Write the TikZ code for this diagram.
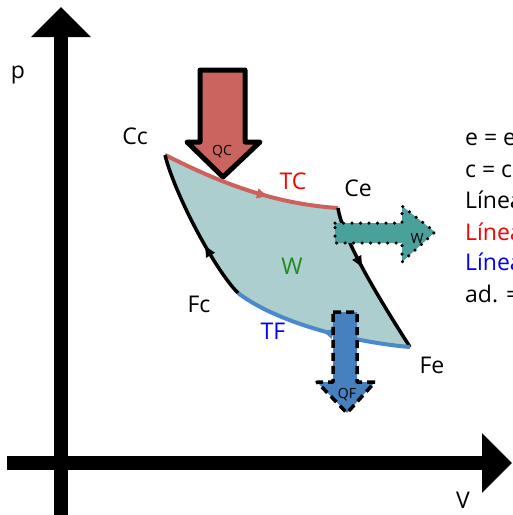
\documentclass[tikz,border=0pt]{standalone}
\usepackage{fontspec}
\setmainfont{Open Sans}
\usetikzlibrary{arrows.meta,decorations.markings}
\definecolor{relleno}{RGB}{172,206,206}
\definecolor{rojot}{RGB}{205,98,92}
\definecolor{azult}{RGB}{74,138,204}
\definecolor{rojoq}{RGB}{203,100,95}
\definecolor{verdew}{RGB}{74,160,155}
\definecolor{azulq}{RGB}{70,128,190}
\definecolor{verdet}{RGB}{30,140,30}
\begin{document}
\begin{tikzpicture}[x=1pt,y=-1pt,
    eje/.style={line width=14pt,-{Triangle[width=58pt,length=30pt]}},
    etiqueta/.style={font=\fontsize{23}{27}\selectfont,inner sep=0pt},
    chica/.style={font=\fontsize{14}{16}\selectfont,inner sep=0pt},
    sentido/.style={decoration={markings,
        mark=at position #1 with {\arrow{Latex[length=13pt,width=11pt]}}},
      postaction={decorate}},
    qcflecha/.style={draw=black,line width=5pt,line join=round,fill=rojoq},
    wflecha/.style={draw=black,line width=3.5pt,line cap=round,
      dash pattern=on 0pt off 8.5pt,fill=verdew},
    qfflecha/.style={draw=black,line width=3.5pt,dash pattern=on 8pt off 5pt,
      line join=round,fill=azulq}]
    \useasboundingbox (0,0) rectangle (513,515);
    % Ejes
    \draw[eje] (61,515) -- (61,7);
    \draw[eje] (7,463) -- (512,463);
    \node[etiqueta] (p) at (18,75) {p};
    \node[etiqueta] (V) at (463,500) {V};
    % Estados del ciclo
    \coordinate (Cc) at (165,155);
    \coordinate (Ce) at (338,208);
    \coordinate (Fe) at (410,347);
    \coordinate (Fc) at (238,293);
    \fill[relleno] (Cc) .. controls (200,172) and (260,203) .. (Ce)
      .. controls (343,240) and (380,300) .. (Fe)
      .. controls (360,343) and (280,325) .. (Fc)
      .. controls (215,270) and (175,195) .. (Cc) -- cycle;
    % Calor que entra
    \draw[qcflecha] (200,70) -- (245,70) -- (245,142) -- (260,142)
      -- (223,177) -- (187,142) -- (200,142) -- cycle;
    \node[chica] (QC) at (222,152) {QC};
    % Isotermas y adiabaticas
    \draw[rojot,line width=4pt,sentido=0.62]
      (Cc) .. controls (200,172) and (260,203) .. (Ce);
    \draw[line width=3.5pt,sentido=0.42]
      (Ce) .. controls (343,240) and (380,300) .. (Fe);
    \draw[azult,line width=4pt,sentido=0.5]
      (Fe) .. controls (360,343) and (280,325) .. (Fc);
    \draw[line width=3.5pt,sentido=0.38]
      (Fc) .. controls (215,270) and (175,195) .. (Cc);
    % Trabajo y calor que sale
    \draw[wflecha] (335,223) -- (402,223) -- (402,206) -- (435,232)
      -- (402,262) -- (402,243) -- (335,243) -- cycle;
    \node[chica] (Wf) at (417,238) {W};
    \draw[qfflecha] (333,312) -- (357,312) -- (357,382) -- (375,382)
      -- (347,413) -- (317,382) -- (333,382) -- cycle;
    \node[chica] (QF) at (347,395) {QF};
    % Nombres
    \node[etiqueta] (lCc) at (135,136) {Cc};
    \node[etiqueta] (lCe) at (358,188) {Ce};
    \node[etiqueta] (lFe) at (432,365) {Fe};
    \node[etiqueta] (lFc) at (199,304) {Fc};
    \node[etiqueta,text=red] (TC) at (293,181) {TC};
    \node[etiqueta,text=blue] (TF) at (273,331) {TF};
    \node[etiqueta,text=verdet] (W) at (292,266) {W};
    % Leyenda
    \foreach \y/\t/\c in {145/{e = e}/black, 177/{c = c}/black,
        208/{Línea}/black, 240/{Línea}/red, 270/{Línea}/blue,
        302/{ad. =}/black} {
      \node[etiqueta,anchor=base west,text=\c] at (465,\y) {\t};
    }
\end{tikzpicture}
\end{document}
